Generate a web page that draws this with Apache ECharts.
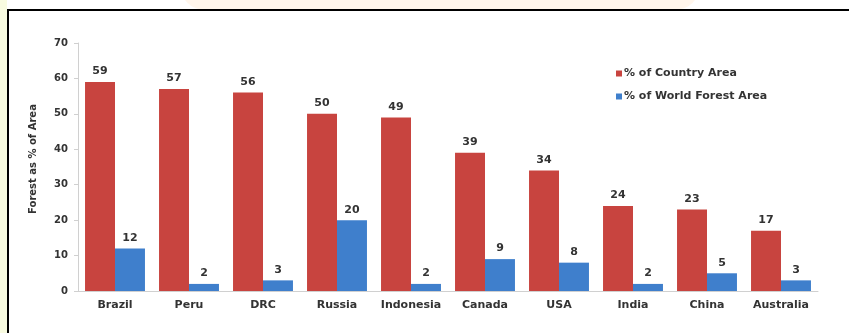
<!DOCTYPE html>
<html><head><meta charset="utf-8">
<script src="https://cdn.jsdelivr.net/npm/echarts@6/dist/echarts.min.js"></script>
<style>html,body{margin:0;padding:0;background:#fff}#c{width:849px;height:333px}</style>
</head><body><div id="c"></div>
<script>
const categories = ['Brazil','Peru','DRC','Russia','Indonesia','Canada','USA','India','China','Australia'];
const countryArea = [59,57,56,50,49,39,34,24,23,17];
const worldForest = [12,2,3,20,2,9,8,2,5,3];
const yTicks = {min:0, max:70, interval:10};
const seriesNames = ['% of Country Area','% of World Forest Area'];
const yTitle = 'Forest as % of Area';

const FF = 'DejaVu Sans, Liberation Sans, Arial';
const chart = echarts.init(document.getElementById('c'), null, {renderer:'canvas'});
const lbl = {show:true, position:'top', distance:5, color:'#333', fontWeight:'bold', fontSize:11, fontFamily:FF};
chart.setOption({
  animation:false,
  backgroundColor:'#fff',
  graphic:[
    {type:'rect', left:0, top:0, shape:{width:7, height:333}, style:{fill:'#f8fbe0'}, silent:true},
    {type:'rect', left:180, top:-40, shape:{width:520, height:50, r:60}, style:{fill:'#fff0e0', opacity:0.6}, silent:true},
    {type:'rect', left:7, top:9, shape:{width:842, height:2}, style:{fill:'#000'}, silent:true},
    {type:'rect', left:7, top:9, shape:{width:2, height:324}, style:{fill:'#000'}, silent:true}
  ],
  grid:{left:78, right:31, top:43, bottom:42, containLabel:false},
  legend:{
    orient:'vertical', left:611, top:63, itemWidth:6, itemHeight:6, itemGap:12, icon:'rect',
    data:seriesNames,
    textStyle:{color:'#333', fontWeight:'bold', fontSize:11, fontFamily:FF, padding:[0,0,0,-3]}
  },
  xAxis:{
    type:'category', data:categories,
    axisLine:{lineStyle:{color:'#d0d0d0'}},
    axisTick:{show:false},
    axisLabel:{interval:0, color:'#333', fontWeight:'bold', fontSize:11, margin:9, fontFamily:FF}
  },
  yAxis:{
    type:'value', min:yTicks.min, max:yTicks.max, interval:yTicks.interval,
    name:yTitle, nameLocation:'middle', nameGap:40, nameRotate:90,
    nameTextStyle:{color:'#333', fontWeight:'bold', fontSize:10, fontFamily:FF, padding:[0,0,0,16]},
    axisLine:{show:true, lineStyle:{color:'#d0d0d0'}},
    axisTick:{show:true, length:4, lineStyle:{color:'#d0d0d0'}},
    splitLine:{show:false},
    axisLabel:{color:'#333', fontWeight:'bold', fontSize:10, margin:10, fontFamily:FF}
  },
  series:[
    {name:seriesNames[0], type:'bar', data:countryArea, barGap:'0%', barCategoryGap:'19%', itemStyle:{color:'#c8443f'}, label:lbl},
    {name:seriesNames[1], type:'bar', data:worldForest, itemStyle:{color:'#3f7fcc'}, label:lbl}
  ]
});
</script></body></html>
